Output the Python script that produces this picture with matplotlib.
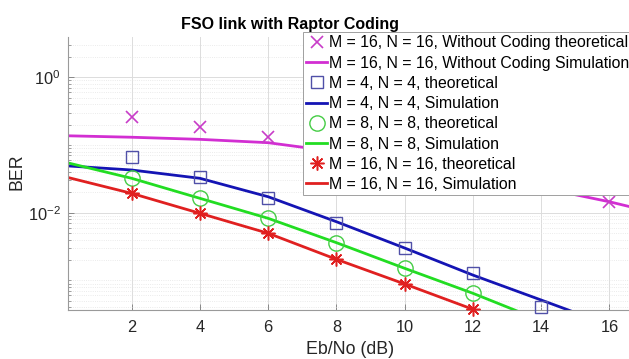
import numpy as np
import matplotlib
matplotlib.use("Agg")
import matplotlib.pyplot as plt
from matplotlib.ticker import FixedLocator, LogFormatterMathtext, NullFormatter

plt.rcParams['font.family'] = ['Liberation Sans', 'DejaVu Sans']

# Eb/No grid of the simulated curves (dB)
ebno_sim = [0, 2, 4, 6, 8, 10, 12, 14, 16, 18]
ber_uncoded_sim = [0.137, 0.130, 0.121, 0.108, 0.0794, 0.055, 0.0363, 0.0234, 0.0145, 0.0083]
ber_m4_sim = [0.0495, 0.0427, 0.0322, 0.0172, 0.00736, 0.00301, 0.00120, 0.000514, 0.000219, 0.0000935]
ber_m8_sim = [0.0564, 0.0322, 0.0163, 0.00826, 0.00361, 0.00151, 0.000646, 0.000255, 0.000105, 0.000044]
ber_m16_sim = [0.0344, 0.0193, 0.0098, 0.00497, 0.00205, 0.000887, 0.000375, 0.000159, 0.000067, 0.000028]

# Theoretical points
ebno_uncoded_th = [2, 4, 6, 8, 10, 12, 14, 16]
ber_uncoded_th = [0.256, 0.182, 0.130, 0.095, 0.066, 0.045, 0.028, 0.0145]
ebno_m4_th = [2, 4, 6, 8, 10, 12, 14]
ber_m4_th = [0.0657, 0.0340, 0.01664, 0.00711, 0.00298, 0.00130, 0.000402]
ebno_m8_th = [2, 4, 6, 8, 10, 12]
ber_m8_th = [0.0322, 0.01632, 0.00826, 0.00361, 0.00151, 0.000646]
ebno_m16_th = [2, 4, 6, 8, 10, 12]
ber_m16_th = [0.0193, 0.0098, 0.00497, 0.00205, 0.000887, 0.000375]

labels = [
    "M = 16, N = 16, Without Coding theoretical",
    "M = 16, N = 16, Without Coding Simulation",
    "M = 4, N = 4, theoretical",
    "M = 4, N = 4, Simulation",
    "M = 8, N = 8, theoretical",
    "M = 8, N = 8, Simulation",
    "M = 16, N = 16, theoretical",
    "M = 16, N = 16, Simulation",
]
xticks = [2, 4, 6, 8, 10, 12, 14, 16]

W, H = 629, 359
fig = plt.figure(figsize=(W / 100, H / 100), dpi=100)
ax_l, ax_r, ax_t, ax_b = 67.5, 632.0, 37.0, 310.0
ax = fig.add_axes([ax_l / W, 1 - ax_b / H, (ax_r - ax_l) / W, (ax_b - ax_t) / H])

c_mag = '#d22ed2'
c_blue = '#1414b4'
c_green = '#22dd22'
c_red = '#e02020'

ax.plot(ebno_uncoded_th, ber_uncoded_th, linestyle='none', marker='x', ms=8.5,
        mew=1.2, color='#c83cc8', clip_on=False, label=labels[0], zorder=3)
ax.plot(ebno_sim, ber_uncoded_sim, color=c_mag, lw=2.0, label=labels[1], zorder=2)
ax.plot(ebno_m4_th, ber_m4_th, linestyle='none', marker='s', ms=9, mew=1.0,
        mfc='none', mec='#5050a8', clip_on=False, label=labels[2], zorder=3)
ax.plot(ebno_sim, ber_m4_sim, color=c_blue, lw=2.0, label=labels[3], zorder=2)
ax.plot(ebno_m8_th, ber_m8_th, linestyle='none', marker='o', ms=11, mew=1.0,
        mfc='none', mec='#44cc44', clip_on=False, label=labels[4], zorder=3)
ax.plot(ebno_sim, ber_m8_sim, color=c_green, lw=2.0, label=labels[5], zorder=2)
ax.plot(ebno_m16_th, ber_m16_th, linestyle='none', marker=(8, 2, 0), ms=10, mew=1.1,
        color=c_red, clip_on=False, label=labels[6], zorder=3)
ax.plot(ebno_sim, ber_m16_sim, color=c_red, lw=2.0, label=labels[7], zorder=2)

ax.set_yscale('log')
ax.set_xticks(xticks)
ax.set_yticks([1e-4, 1e-2, 1e0])
ax.yaxis.set_major_formatter(LogFormatterMathtext())
minor = [m * 10.0 ** e for e in range(-5, 2) for m in range(1, 10)
         if not (m == 1 and e in (-4, -2, 0))]
ax.yaxis.set_minor_locator(FixedLocator(minor))
ax.yaxis.set_minor_formatter(NullFormatter())
ax.set_xlim(0.12, 16.66)
ax.set_ylim(10 ** -3.436, 10 ** 0.5934)

ax.grid(True, which='major', color='#dcdcdc', lw=0.7)
ax.grid(True, which='minor', axis='y', color='#e4e4e4', lw=0.6, linestyle=':')
ax.set_axisbelow(True)

for side in ('top', 'right'):
    ax.spines[side].set_visible(False)
for side in ('left', 'bottom'):
    ax.spines[side].set_color('#9a9a9a')
    ax.spines[side].set_linewidth(0.8)

ax.tick_params(which='both', direction='in', color='#7a7a7a', labelcolor='#262626')
ax.tick_params(which='major', length=4, width=0.6, labelsize=11.8)
ax.tick_params(which='minor', length=2.2, width=0.5)
ax.tick_params(axis='x', pad=7)
ax.tick_params(axis='y', pad=5)

ax.set_xlabel("Eb/No (dB)", fontsize=12.8, color='#262626')
ax.xaxis.set_label_coords(0.4997, -0.115)
ax.set_ylabel("BER", fontsize=12.8, color='#262626')
ax.yaxis.set_label_coords(-0.075, 0.505)

fig.text(290 / W, 1 - 29.3 / H, "FSO link with Raptor Coding", ha='center',
         va='baseline', fontsize=11.5, fontweight='bold', color='black')

leg = ax.legend(loc='upper left', bbox_to_anchor=(303.3 / W, 1 - 32.3 / H),
                bbox_transform=fig.transFigure, borderaxespad=0, fontsize=11.4,
                handlelength=1.3, handletextpad=0.12, borderpad=0.2,
                labelspacing=0.33, fancybox=False, framealpha=1, edgecolor='#a0a0a0')
leg.get_frame().set_linewidth(0.7)
leg.set_zorder(10)

fig.savefig("out.png", dpi=100)
